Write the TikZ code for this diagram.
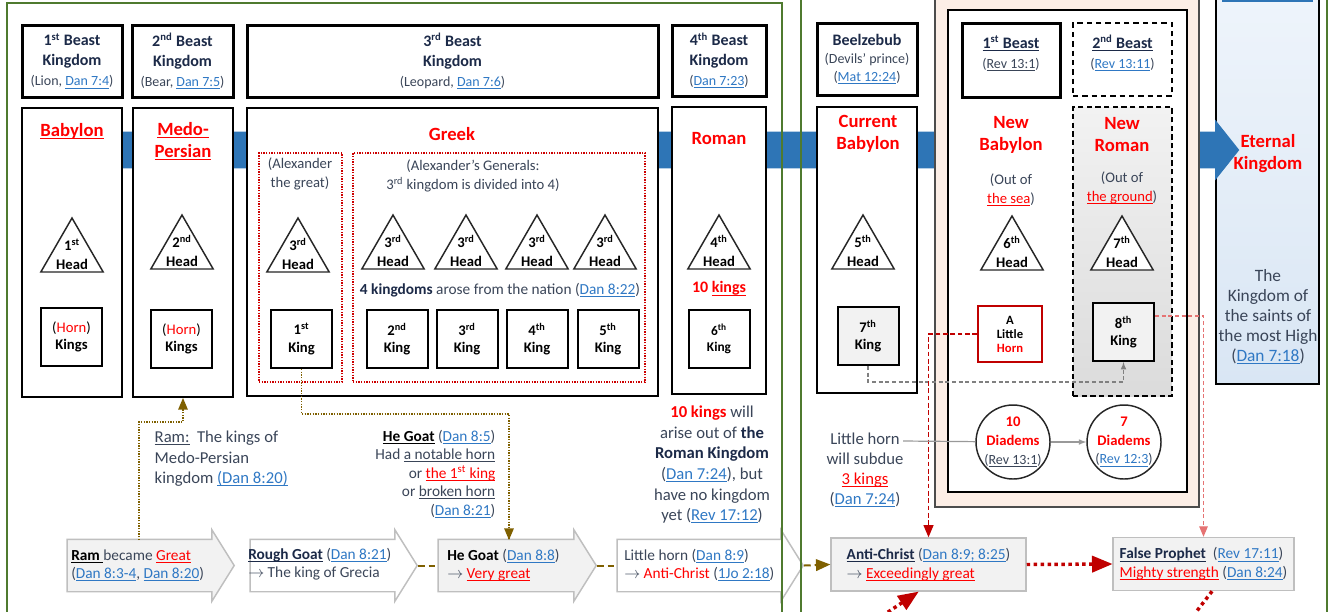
\documentclass[tikz,border=0pt]{standalone}
\usepackage{fontspec}
\setmainfont{Carlito}
\usepackage{tikz}
\usetikzlibrary{shapes.geometric, shapes.arrows, arrows}
\definecolor{navy}{HTML}{1C2A48}
\definecolor{slate}{HTML}{3A4558}
\definecolor{linkblue}{HTML}{2F78C4}
\definecolor{bandblue}{HTML}{2E75B6}
\definecolor{goatbrown}{HTML}{7F6000}
\definecolor{deepred}{HTML}{C00000}
\definecolor{palered}{HTML}{E57373}
\definecolor{pinkfill}{HTML}{FCEEE6}
\definecolor{paper}{HTML}{F2F2F2}
\definecolor{edge}{HTML}{BFBFBF}
\definecolor{framegreen}{HTML}{4F7A2F}
\definecolor{skytop}{HTML}{EEF4FB}
\definecolor{skybot}{HTML}{D9E6F4}
\newcommand{\uln}[1]{\underline{\smash{#1}}}
\newcommand{\lnk}[1]{\textcolor{linkblue}{\uln{#1}}}
\newcommand{\refline}[1]{{\mdseries\color{slate}\fontsize{10.5}{15}\selectfont #1}}
\tikzset{
    beast/.style={draw=black, line width=2.25pt, fill=white, align=center, text=navy, font=\bfseries\fontsize{12}{15}\selectfont},
    kingdom/.style={draw=black, line width=1.5pt, fill=white},
    realm/.style={text=red, align=center, font=\bfseries\fontsize{14}{16.5}\selectfont},
    head/.style={regular polygon, regular polygon sides=3, draw=black!85, line width=1.1pt, fill=white, minimum size=54pt, inner sep=0pt},
    headtxt/.style={align=center, inner sep=0pt, font=\bfseries\fontsize{11}{14}\selectfont},
    king/.style={draw=black, line width=1.5pt, fill=white, minimum width=45.75pt, minimum height=43.5pt, inner sep=0pt, align=center, font=\bfseries\fontsize{11}{13}\selectfont},
    split/.style={draw=red!80!black, densely dotted, line width=1pt},
    note/.style={text=slate, align=center, font=\fontsize{11}{14}\selectfont},
    stage/.style={single arrow, draw=edge, line width=1.1pt, inner xsep=0pt, inner ysep=19.125pt, single arrow head extend=7.125pt, single arrow tip angle=116},
    stagetxt/.style={anchor=west, align=left, text=slate, inner sep=0pt, font=\fontsize{11.5}{13.5}\selectfont},
    plaque/.style={draw=edge, line width=1.1pt, fill=paper, minimum height=39.75pt, align=left, text=slate, font=\fontsize{11.5}{14}\selectfont},
    diadem/.style={circle, draw=black!85, line width=1.1pt, fill=white, minimum size=55.5pt, inner sep=0pt},
    diatxt/.style={align=center, text=red, inner sep=0pt, font=\bfseries\fontsize{11}{13.9}\selectfont},
    goat/.style={draw=goatbrown, line width=1.5pt, dash pattern=on 5pt off 3pt},
    goatdot/.style={draw=goatbrown, line width=1pt, densely dotted},
    redash/.style={draw=deepred, line width=1.1pt, dash pattern=on 3.5pt off 2pt},
    pinkdot/.style={draw=palered, line width=0.8pt, densely dashed},
    greydash/.style={draw=gray, line width=0.9pt, densely dashed},
    bigdot/.style={draw=deepred, line width=2.6pt, dash pattern=on 2.6pt off 2.6pt},
    thinline/.style={draw=gray!80, line width=0.9pt},
    frame/.style={draw=framegreen, line width=1.5pt},
}

\begin{document}
\begin{tikzpicture}[x=0.75pt, y=-0.75pt]
    \clip (0,0) rectangle (1333,611);
    % kingdom of the saints, behind the timeline
    \node [draw=black, line width=1.8pt, top color=skytop, bottom color=skybot, minimum width=77.25pt, minimum height=291.75pt] (eternal) at (1267.5,189.5) {};
    \draw [bandblue, line width=1.5pt] (1222,0.5) -- (1313,0.5);
    \node [single arrow, fill=bandblue, inner xsep=0pt, inner ysep=13.5pt, single arrow head extend=9pt, single arrow tip angle=103, minimum height=907.5pt] (timeline) at (627,150) {};
    \node [draw=black!70, line width=1.2pt, fill=pinkfill, minimum width=198pt, minimum height=382.5pt] (rev) at (1067,252) {};
    \node [draw=black, line width=1.9pt, fill=white, minimum width=179.25pt, minimum height=361.5pt] (revin) at (1067.5,251) {};

    \node [beast, minimum width=75pt, minimum height=54pt] (beast1) at (72,61) {1\textsuperscript{st} Beast\\Kingdom\\\refline{(Lion, \lnk{Dan 7:4})}};
    \node [beast, minimum width=75.75pt, minimum height=54pt] (beast2) at (182.5,61) {2\textsuperscript{nd} Beast\\Kingdom\\\refline{(Bear, \lnk{Dan 7:5})}};
    \node [beast, minimum width=308.25pt, minimum height=54pt] (beast3) at (452.5,61) {3\textsuperscript{rd} Beast\\Kingdom\\\refline{(Leopard, \lnk{Dan 7:6})}};
    \node [beast, minimum width=70.5pt, minimum height=53.25pt] (beast4) at (719,60.5) {4\textsuperscript{th} Beast\\Kingdom\\\refline{(\lnk{Dan 7:23})}};
    \node [beast, minimum width=75pt, minimum height=54pt, font=\bfseries\fontsize{12}{13.5}\selectfont] (beelz) at (867,59) {Beelzebub\\\refline{(Devils’ prince)}\\\refline{(\lnk{Mat 12:24})}};
    \node [beast, minimum width=73.5pt, minimum height=55.5pt] (rbeast1) at (1011,60) {\uln{1\textsuperscript{st} Beast}\\\refline{(\uln{Rev 13:1})}};
    \node [beast, line width=1.5pt, dash pattern=on 4pt off 3pt, minimum width=74.25pt, minimum height=54.75pt] (rbeast2) at (1122.5,59.5) {\uln{2\textsuperscript{nd} Beast}\\\refline{(\lnk{Rev 13:11})}};

    \node [kingdom, minimum width=75pt, minimum height=216.75pt] (babylon) at (72,252.5) {};
    \node [kingdom, minimum width=75pt, minimum height=216.75pt] (medo) at (183,252.5) {};
    \node [kingdom, minimum width=308.25pt, minimum height=216pt] (greek) at (452.5,252) {};
    \node [kingdom, minimum width=70.5pt, minimum height=215.25pt] (roman) at (719,250.5) {};
    \node [kingdom, minimum width=75pt, minimum height=214.5pt] (current) at (867,250) {};
    \node [draw=black, line width=1.8pt, dash pattern=on 4pt off 2.5pt, top color=paper, bottom color=black!14, minimum width=74.25pt, minimum height=216.75pt] (newroman) at (1122.5,251.5) {};

    \node [realm] (babylonT) at (72,138) {\uln{Babylon}};
    \node [realm] (medoT) at (183,148) {\uln{Medo-}\\\uln{Persian}};
    \node [realm] (greekT) at (452,134) {Greek};
    \node [realm] (romanT) at (719,139) {Roman};
    \node [realm] (currentT) at (868,134) {Current\\Babylon};
    \node [realm] (newbabT) at (1011,135) {New\\Babylon};
    \node [realm] (newromT) at (1122,135) {New\\Roman};
    \node [realm] (eternalT) at (1268,154) {Eternal\\Kingdom};

    \node [split, minimum width=62.25pt, minimum height=171.75pt] (alex) at (300.5,267.5) {};
    \node [split, minimum width=219pt, minimum height=171.75pt] (generals) at (499,267.5) {};
    \node [note] (alexT) at (300,174) {(Alexander\\the great)};
    \node [note] (generalsT) at (473,176) {(Alexander’s Generals:\\3\textsuperscript{rd} kingdom is divided into 4)};
    \node [note, font=\fontsize{11.5}{14}\selectfont] (fourT) at (500,290) {\textcolor{navy}{\textbf{4 kingdoms}} arose from the nation (\lnk{Dan 8:22})};
    \node [note, text=red, font=\bfseries\fontsize{12}{14}\selectfont] (tenT) at (719,289) {10 \uln{kings}};
    \node [note] (seaT) at (1011,190) {(Out of\\\textcolor{red}{\uln{the sea}})};
    \node [note] (groundT) at (1122,188) {(Out of\\\textcolor{red}{\uln{the ground}})};

    \node [head] (head1) at (72,254) {};
    \node [headtxt] (head1t) at (head1) {1\textsuperscript{st}\\Head};
    \node [head] (head2) at (182,251) {};
    \node [headtxt] (head2t) at (head2) {2\textsuperscript{nd}\\Head};
    \node [head] (head3) at (298,254) {};
    \node [headtxt] (head3t) at (head3) {3\textsuperscript{rd}\\Head};
    \node [head] (head3a) at (393,251) {};
    \node [headtxt] (head3at) at (head3a) {3\textsuperscript{rd}\\Head};
    \node [head] (head3b) at (466,251) {};
    \node [headtxt] (head3bt) at (head3b) {3\textsuperscript{rd}\\Head};
    \node [head] (head3c) at (537,251) {};
    \node [headtxt] (head3ct) at (head3c) {3\textsuperscript{rd}\\Head};
    \node [head] (head3d) at (605,251) {};
    \node [headtxt] (head3dt) at (head3d) {3\textsuperscript{rd}\\Head};
    \node [head] (head4) at (719,251) {};
    \node [headtxt] (head4t) at (head4) {4\textsuperscript{th}\\Head};
    \node [head] (head5) at (863,251) {};
    \node [headtxt] (head5t) at (head5) {5\textsuperscript{th}\\Head};
    \node [head] (head6) at (1012,252) {};
    \node [headtxt] (head6t) at (head6) {6\textsuperscript{th}\\Head};
    \node [head] (head7) at (1122,252) {};
    \node [headtxt] (head7t) at (head7) {7\textsuperscript{th}\\Head};

    \node [king] (king1) at (71.5,337) {{\mdseries(\textcolor{red}{Horn})}\\Kings};
    \node [king] (king2) at (181.5,339) {{\mdseries(\textcolor{red}{Horn})}\\Kings};
    \node [king] (king3) at (301.5,339) {1\textsuperscript{st}\\King};
    \node [king] (king4) at (397,339) {2\textsuperscript{nd}\\King};
    \node [king] (king5) at (467,339) {3\textsuperscript{rd}\\King};
    \node [king] (king6) at (537,339) {4\textsuperscript{th}\\King};
    \node [king] (king7) at (608,339) {5\textsuperscript{th}\\King};
    \node [king, font=\bfseries\fontsize{10}{12}\selectfont] (king8) at (719,339) {6\textsuperscript{th}\\King};
    \node [king, fill=paper] (king9) at (868,336) {7\textsuperscript{th}\\King};
    \node [king, draw=deepred, minimum width=48pt, minimum height=42pt, font=\bfseries\fontsize{9.5}{10.5}\selectfont] (horn) at (1010,334) {A\\Little\\\textcolor{red}{Horn}};
    \node [king, fill=paper] (king10) at (1123.5,332) {8\textsuperscript{th}\\King};

    \node [diadem] (dia10) at (1013,442) {};
    \node [diatxt] (dia10t) at (dia10) {10\\Diadems\\\refline{(\uln{Rev 13:1})}};
    \node [diadem] (dia7) at (1124,442) {};
    \node [diatxt] (dia7t) at (dia7) {7\\Diadems\\\refline{(\lnk{Rev 12:3})}};

    \node [note, font=\fontsize{13}{15}\selectfont] (saints) at (1268,317) {The\\Kingdom of\\the saints of\\the most High\\(\lnk{Dan 7:18})};
    \node [note, align=left, anchor=west, font=\fontsize{12.5}{15.4}\selectfont] (ramnote) at (150,459) {\uln{Ram:}~ The kings of\\Medo-Persian\\kingdom \lnk{(Dan 8:20)}};
    \node [note, align=right, anchor=east, font=\fontsize{11.5}{13.9}\selectfont] (goatnote) at (500,474) {\textcolor{black}{\uln{\textbf{He Goat}}} (\lnk{Dan 8:5})\\Had \uln{a notable horn}\\or \textcolor{red}{\uln{the 1\textsuperscript{st} king}}\\or \uln{broken horn}\\(\lnk{Dan 8:21})};
    \node [note, font=\fontsize{12.5}{15.5}\selectfont] (tennote) at (712,464.5) {\textcolor{red}{\textbf{10 kings}} will\\arise out of \textcolor{navy}{\textbf{the}}\\\textcolor{navy}{\textbf{Roman Kingdom}}\\(\lnk{Dan 7:24}), but\\have no kingdom\\yet (\lnk{Rev 17:12})};
    \node [note, font=\fontsize{12.5}{14.8}\selectfont] (subdue) at (865,470) {Little horn\\will subdue\\\textcolor{red}{\uln{3 kings}}\\(\lnk{Dan 7:24})};

    \node [stage, fill=paper, minimum height=125.25pt] (ram) at (142.5,565.5) {};
    \node [stagetxt] (ramT) at (71,565) {\textcolor{black}{\uln{\textbf{Ram}\ }}became \textcolor{red}{\uln{Great}}\\(\lnk{Dan 8:3-4}, \lnk{Dan 8:20})};
    \node [stage, fill=white, minimum height=125.25pt] (rough) at (325.5,565.5) {};
    \node [stagetxt] (roughT) at (248,564) {\textcolor{navy}{\uln{\textbf{Rough Goat}}} (\lnk{Dan 8:21})\\$\rightarrow$ The king of Grecia};
    \node [stage, fill=paper, minimum height=118.5pt] (hegoat) at (509,565.5) {};
    \node [stagetxt] (hegoatT) at (447,565) {\textcolor{black}{\textbf{He Goat}} (\lnk{Dan 8:8})\\$\rightarrow$ \textcolor{red}{\uln{Very great}}};
    \node [stage, fill=white, minimum height=139.5pt] (little) at (702,565.5) {};
    \node [stagetxt] (littleT) at (624,565) {Little horn (\lnk{Dan 8:9})\\$\rightarrow$ \textcolor{red}{Anti-Christ} (\lnk{1Jo 2:18})};
    \node [plaque, minimum width=146.25pt] (anti) at (928.5,564.5) {\textcolor{navy}{\uln{\textbf{Anti-Christ}}} (\lnk{Dan 8:9; 8:25})\\$\rightarrow$ \textcolor{red}{\uln{Exceedingly great}}};
    \node [plaque, minimum width=135.75pt] (prophet) at (1203.5,564) {\textcolor{navy}{\uln{\textbf{False Prophet}}}~ (\lnk{Rev 17:11})\\\textcolor{red}{\uln{Mighty strength}} (\lnk{Dan 8:24})};

    \coordinate (ramUp) at (139,540);
    \coordinate (heUp) at (509,540);
    \coordinate (lhEnd) at (903,441);
    \coordinate (fromBelow) at (882,616);
    \coordinate (toBelow) at (1193,616);
    \draw [goat] (rough.tip) -- (hegoat.tail);
    \draw [goat] (hegoat.tip) -- (little.tail);
    \draw [goat, -triangle 45] (little.tip) -- (anti.west);
    \draw [goatdot, -triangle 45] (ramUp) -- ++(0,-118) -| (medo.south);
    \draw [goatdot, -triangle 45] (king3.south) -- ++(0,45) -| (heUp);
    \draw [greydash, -latex] (king9.south) -- ++(0,16) -| (king10.south);
    \draw [redash, -triangle 45] (horn.west) -| (anti.north);
    \draw [pinkdot, -triangle 45] ([yshift=12pt]king10.east) -| (prophet.north);
    \draw [thinline] (lhEnd) -- (dia10);
    \draw [thinline, -latex] (dia10) -- (dia7);
    \draw [bigdot, -triangle 45] (anti.east) -- (prophet.west);
    \draw [bigdot, -triangle 45] (fromBelow) -- ([xshift=-7.5pt]anti.south);
    \draw [bigdot] ([xshift=6.4pt]prophet.south) -- (toBelow);

    \draw [frame] (7,3) rectangle (782,625);
    \draw [frame] (801,-5) rectangle (1327,625);
\end{tikzpicture}
\end{document}
